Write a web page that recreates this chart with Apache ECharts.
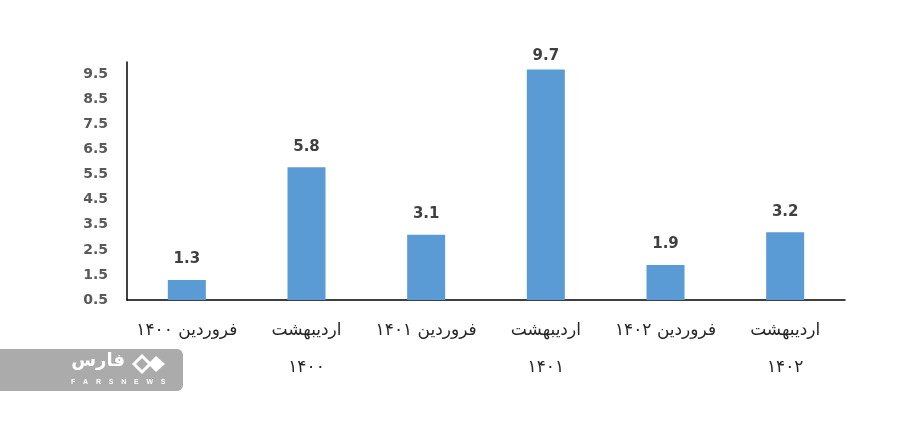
<!DOCTYPE html>
<html><head><meta charset="utf-8">
<script src="https://cdn.jsdelivr.net/npm/echarts@6/dist/echarts.min.js"></script>
<style>html,body{margin:0;padding:0;background:#fff}#c{width:912px;height:441px}</style>
</head><body><div id="c"></div>
<script>
const categories = ['فروردین ۱۴۰۰', 'اردیبهشت\n۱۴۰۰', 'فروردین ۱۴۰۱', 'اردیبهشت\n۱۴۰۱', 'فروردین ۱۴۰۲', 'اردیبهشت\n۱۴۰۲'];
const values = [1.3, 5.8, 3.1, 9.7, 1.9, 3.2];
const chart = echarts.init(document.getElementById('c'));
const seriesData = values.map(v => v >= 9.5 ? {value: v, label: {distance: 6}} : v);
chart.setOption({
  animation: false,
  grid: {left: 127, right: 67, top: 62, bottom: 141},
  xAxis: {
    type: 'category', data: categories,
    axisLine: {lineStyle: {color: '#000', width: 1.5}},
    axisTick: {show: false},
    axisLabel: {fontFamily: 'DejaVu Sans', fontSize: 17, color: '#262626', lineHeight: 37, margin: 12, interval: 0}
  },
  yAxis: {
    type: 'value', min: 0.5, max: 10, interval: 1,
    axisLine: {show: true, lineStyle: {color: '#000', width: 1.5}},
    axisTick: {show: false},
    splitLine: {show: false},
    axisLabel: {showMaxLabel: false, fontFamily: 'DejaVu Sans', fontWeight: 'bold', fontSize: 14, color: '#595959', margin: 19,
      formatter: v => v.toFixed(1)}
  },
  series: [{
    type: 'bar', data: seriesData, barWidth: 38,
    itemStyle: {color: '#5B9BD5'},
    label: {show: true, position: 'top', distance: 13, fontFamily: 'DejaVu Sans', fontWeight: 'bold', fontSize: 15, color: '#404040',
      formatter: p => p.value.toFixed(1)}
  }],
  graphic: [
    {type: 'rect', left: 0, top: 349, shape: {width: 183, height: 42, r: [0, 6, 6, 0]}, style: {fill: '#ababab'}},
    {type: 'text', x: 125, y: 352, style: {text: 'فارس', font: 'bold 18px DejaVu Sans', fill: '#fff', textAlign: 'right'}},
    {type: 'text', x: 71, y: 379, style: {text: 'F    A    R    S    N    E    W    S', font: 'bold 7px Liberation Sans', fill: '#fff'}},
    {type: 'polygon', shape: {points: [[134,364],[142,356],[150,364],[142,372]]}, style: {fill: 'none', stroke: '#fff', lineWidth: 3}},
    {type: 'polygon', shape: {points: [[148,364],[156,356],[165,364],[156,372]]}, style: {fill: '#fff'}}
  ]
});
</script></body></html>
